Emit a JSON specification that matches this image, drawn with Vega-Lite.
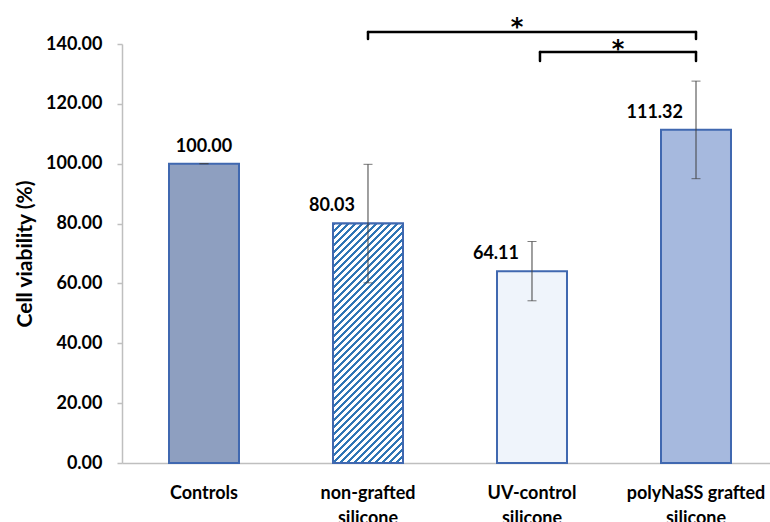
{
  "$schema": "https://vega.github.io/schema/vega-lite/v6.json",
  "width": 648,
  "height": 419,
  "autosize": {"type": "none"},
  "padding": {"left": 122, "top": 44, "right": 0, "bottom": 59},
  "background": "white",
  "config": {"view": {"stroke": null}, "font": "Lato"},
  "datasets": {
    "bars": [
      {"group": "Controls", "mean": 100.00, "low": 100.00, "high": 100.00},
      {"group": "non-grafted silicone", "mean": 80.03, "low": 60.2, "high": 99.8},
      {"group": "UV-control silicone", "mean": 64.11, "low": 54.2, "high": 74.0},
      {"group": "polyNaSS grafted silicone", "mean": 111.32, "low": 95.0, "high": 127.6}
    ],
    "brackets": [
      {"id": 1, "from": "non-grafted silicone", "to": "polyNaSS grafted silicone", "y": 144.0, "tip": 141.7, "label": "*"},
      {"id": 2, "from": "UV-control silicone", "to": "polyNaSS grafted silicone", "y": 137.3, "tip": 134.3, "label": "*"}
    ]
  },
  "layer": [
    {
      "data": {"name": "bars"},
      "mark": {"type": "bar", "stroke": "#4068B0", "strokeWidth": 2},
      "encoding": {
        "x": {
          "field": "group", "type": "nominal", "sort": null, "title": null,
          "scale": {"domain": ["Controls", "non-grafted silicone", "UV-control silicone", "polyNaSS grafted silicone"], "paddingInner": 0.5732, "paddingOuter": 0.2622, "align": 0.5465},
          "axis": {"title": null, "labelFont": "Lato", "labelFontSize": 18, "labelFontWeight": "bold", "labelColor": "#000000", "labelPadding": 21, "labelLineHeight": 25, "labelBaseline": "top", "labelAngle": 0, "labelOverlap": false, "labelLimit": 300, "ticks": false, "domainColor": "#BFBFBF", "domainWidth": 1.5,
            "labelExpr": "indexof(datum.label, ' silicone') > 0 ? [replace(datum.label, ' silicone', ''), 'silicone'] : datum.label"}
        },
        "y": {
          "field": "mean", "type": "quantitative",
          "scale": {"domain": [0, 140], "nice": false, "zero": true},
          "axis": {"values": [0, 20, 40, 60, 80, 100, 120, 140], "format": ".2f", "grid": false, "domainColor": "#BFBFBF", "domainWidth": 1.5, "tickColor": "#BFBFBF", "tickSize": 5, "tickWidth": 1.5, "labelFont": "Lato", "labelFontSize": 18, "labelFontWeight": "bold", "labelColor": "#000000", "labelPadding": 15,
            "title": "Cell viability (%)", "titleFont": "Lato", "titleFontSize": 21, "titleFontWeight": "bold", "titleColor": "#000000", "titleX": -97, "titleY": 209.5, "titleAngle": -90, "titleAlign": "center", "titleBaseline": "middle"}
        },
        "color": {
          "field": "group", "type": "nominal",
          "scale": {"domain": ["Controls", "non-grafted silicone", "UV-control silicone", "polyNaSS grafted silicone"], "range": ["#8E9FC0", "#ffffff", "#EFF4FB", "#A6B9DE"]},
          "legend": null
        }
      }
    },
    {
      "data": {"name": "bars"},
      "transform": [{"filter": "datum.group === 'non-grafted silicone'"}],
      "mark": {
        "type": "bar", "stroke": "#4068B0", "strokeWidth": 2,
        "fill": {
          "gradient": "linear", "x1": 0, "y1": 0, "x2": 0.39345, "y2": 1.34627,
          "stops": [
            {"offset": 0, "color": "#2f75b5"}, {"offset": 0.01, "color": "#2f75b5"}, {"offset": 0.01, "color": "#fff"}, {"offset": 0.02, "color": "#fff"},
            {"offset": 0.02, "color": "#2f75b5"}, {"offset": 0.03, "color": "#2f75b5"}, {"offset": 0.03, "color": "#fff"}, {"offset": 0.04, "color": "#fff"},
            {"offset": 0.04, "color": "#2f75b5"}, {"offset": 0.05, "color": "#2f75b5"}, {"offset": 0.05, "color": "#fff"}, {"offset": 0.06, "color": "#fff"},
            {"offset": 0.06, "color": "#2f75b5"}, {"offset": 0.07, "color": "#2f75b5"}, {"offset": 0.07, "color": "#fff"}, {"offset": 0.08, "color": "#fff"},
            {"offset": 0.08, "color": "#2f75b5"}, {"offset": 0.09, "color": "#2f75b5"}, {"offset": 0.09, "color": "#fff"}, {"offset": 0.10, "color": "#fff"},
            {"offset": 0.10, "color": "#2f75b5"}, {"offset": 0.11, "color": "#2f75b5"}, {"offset": 0.11, "color": "#fff"}, {"offset": 0.12, "color": "#fff"},
            {"offset": 0.12, "color": "#2f75b5"}, {"offset": 0.13, "color": "#2f75b5"}, {"offset": 0.13, "color": "#fff"}, {"offset": 0.14, "color": "#fff"},
            {"offset": 0.14, "color": "#2f75b5"}, {"offset": 0.15, "color": "#2f75b5"}, {"offset": 0.15, "color": "#fff"}, {"offset": 0.16, "color": "#fff"},
            {"offset": 0.16, "color": "#2f75b5"}, {"offset": 0.17, "color": "#2f75b5"}, {"offset": 0.17, "color": "#fff"}, {"offset": 0.18, "color": "#fff"},
            {"offset": 0.18, "color": "#2f75b5"}, {"offset": 0.19, "color": "#2f75b5"}, {"offset": 0.19, "color": "#fff"}, {"offset": 0.20, "color": "#fff"},
            {"offset": 0.20, "color": "#2f75b5"}, {"offset": 0.21, "color": "#2f75b5"}, {"offset": 0.21, "color": "#fff"}, {"offset": 0.22, "color": "#fff"},
            {"offset": 0.22, "color": "#2f75b5"}, {"offset": 0.23, "color": "#2f75b5"}, {"offset": 0.23, "color": "#fff"}, {"offset": 0.24, "color": "#fff"},
            {"offset": 0.24, "color": "#2f75b5"}, {"offset": 0.25, "color": "#2f75b5"}, {"offset": 0.25, "color": "#fff"}, {"offset": 0.26, "color": "#fff"},
            {"offset": 0.26, "color": "#2f75b5"}, {"offset": 0.27, "color": "#2f75b5"}, {"offset": 0.27, "color": "#fff"}, {"offset": 0.28, "color": "#fff"},
            {"offset": 0.28, "color": "#2f75b5"}, {"offset": 0.29, "color": "#2f75b5"}, {"offset": 0.29, "color": "#fff"}, {"offset": 0.30, "color": "#fff"},
            {"offset": 0.30, "color": "#2f75b5"}, {"offset": 0.31, "color": "#2f75b5"}, {"offset": 0.31, "color": "#fff"}, {"offset": 0.32, "color": "#fff"},
            {"offset": 0.32, "color": "#2f75b5"}, {"offset": 0.33, "color": "#2f75b5"}, {"offset": 0.33, "color": "#fff"}, {"offset": 0.34, "color": "#fff"},
            {"offset": 0.34, "color": "#2f75b5"}, {"offset": 0.35, "color": "#2f75b5"}, {"offset": 0.35, "color": "#fff"}, {"offset": 0.36, "color": "#fff"},
            {"offset": 0.36, "color": "#2f75b5"}, {"offset": 0.37, "color": "#2f75b5"}, {"offset": 0.37, "color": "#fff"}, {"offset": 0.38, "color": "#fff"},
            {"offset": 0.38, "color": "#2f75b5"}, {"offset": 0.39, "color": "#2f75b5"}, {"offset": 0.39, "color": "#fff"}, {"offset": 0.40, "color": "#fff"},
            {"offset": 0.40, "color": "#2f75b5"}, {"offset": 0.41, "color": "#2f75b5"}, {"offset": 0.41, "color": "#fff"}, {"offset": 0.42, "color": "#fff"},
            {"offset": 0.42, "color": "#2f75b5"}, {"offset": 0.43, "color": "#2f75b5"}, {"offset": 0.43, "color": "#fff"}, {"offset": 0.44, "color": "#fff"},
            {"offset": 0.44, "color": "#2f75b5"}, {"offset": 0.45, "color": "#2f75b5"}, {"offset": 0.45, "color": "#fff"}, {"offset": 0.46, "color": "#fff"},
            {"offset": 0.46, "color": "#2f75b5"}, {"offset": 0.47, "color": "#2f75b5"}, {"offset": 0.47, "color": "#fff"}, {"offset": 0.48, "color": "#fff"},
            {"offset": 0.48, "color": "#2f75b5"}, {"offset": 0.49, "color": "#2f75b5"}, {"offset": 0.49, "color": "#fff"}, {"offset": 0.50, "color": "#fff"},
            {"offset": 0.50, "color": "#2f75b5"}, {"offset": 0.51, "color": "#2f75b5"}, {"offset": 0.51, "color": "#fff"}, {"offset": 0.52, "color": "#fff"},
            {"offset": 0.52, "color": "#2f75b5"}, {"offset": 0.53, "color": "#2f75b5"}, {"offset": 0.53, "color": "#fff"}, {"offset": 0.54, "color": "#fff"},
            {"offset": 0.54, "color": "#2f75b5"}, {"offset": 0.55, "color": "#2f75b5"}, {"offset": 0.55, "color": "#fff"}, {"offset": 0.56, "color": "#fff"},
            {"offset": 0.56, "color": "#2f75b5"}, {"offset": 0.57, "color": "#2f75b5"}, {"offset": 0.57, "color": "#fff"}, {"offset": 0.58, "color": "#fff"},
            {"offset": 0.58, "color": "#2f75b5"}, {"offset": 0.59, "color": "#2f75b5"}, {"offset": 0.59, "color": "#fff"}, {"offset": 0.60, "color": "#fff"},
            {"offset": 0.60, "color": "#2f75b5"}, {"offset": 0.61, "color": "#2f75b5"}, {"offset": 0.61, "color": "#fff"}, {"offset": 0.62, "color": "#fff"},
            {"offset": 0.62, "color": "#2f75b5"}, {"offset": 0.63, "color": "#2f75b5"}, {"offset": 0.63, "color": "#fff"}, {"offset": 0.64, "color": "#fff"},
            {"offset": 0.64, "color": "#2f75b5"}, {"offset": 0.65, "color": "#2f75b5"}, {"offset": 0.65, "color": "#fff"}, {"offset": 0.66, "color": "#fff"},
            {"offset": 0.66, "color": "#2f75b5"}, {"offset": 0.67, "color": "#2f75b5"}, {"offset": 0.67, "color": "#fff"}, {"offset": 0.68, "color": "#fff"},
            {"offset": 0.68, "color": "#2f75b5"}, {"offset": 0.69, "color": "#2f75b5"}, {"offset": 0.69, "color": "#fff"}, {"offset": 0.70, "color": "#fff"},
            {"offset": 0.70, "color": "#2f75b5"}, {"offset": 0.71, "color": "#2f75b5"}, {"offset": 0.71, "color": "#fff"}, {"offset": 0.72, "color": "#fff"},
            {"offset": 0.72, "color": "#2f75b5"}, {"offset": 0.73, "color": "#2f75b5"}, {"offset": 0.73, "color": "#fff"}, {"offset": 0.74, "color": "#fff"},
            {"offset": 0.74, "color": "#2f75b5"}, {"offset": 0.75, "color": "#2f75b5"}, {"offset": 0.75, "color": "#fff"}, {"offset": 0.76, "color": "#fff"},
            {"offset": 0.76, "color": "#2f75b5"}, {"offset": 0.77, "color": "#2f75b5"}, {"offset": 0.77, "color": "#fff"}, {"offset": 0.78, "color": "#fff"},
            {"offset": 0.78, "color": "#2f75b5"}, {"offset": 0.79, "color": "#2f75b5"}, {"offset": 0.79, "color": "#fff"}, {"offset": 0.80, "color": "#fff"},
            {"offset": 0.80, "color": "#2f75b5"}, {"offset": 0.81, "color": "#2f75b5"}, {"offset": 0.81, "color": "#fff"}, {"offset": 0.82, "color": "#fff"},
            {"offset": 0.82, "color": "#2f75b5"}, {"offset": 0.83, "color": "#2f75b5"}, {"offset": 0.83, "color": "#fff"}, {"offset": 0.84, "color": "#fff"},
            {"offset": 0.84, "color": "#2f75b5"}, {"offset": 0.85, "color": "#2f75b5"}, {"offset": 0.85, "color": "#fff"}, {"offset": 0.86, "color": "#fff"},
            {"offset": 0.86, "color": "#2f75b5"}, {"offset": 0.87, "color": "#2f75b5"}, {"offset": 0.87, "color": "#fff"}, {"offset": 0.88, "color": "#fff"},
            {"offset": 0.88, "color": "#2f75b5"}, {"offset": 0.89, "color": "#2f75b5"}, {"offset": 0.89, "color": "#fff"}, {"offset": 0.90, "color": "#fff"}
          ]
        }
      },
      "encoding": {
        "x": {"field": "group", "type": "nominal", "title": null},
        "y": {"field": "mean", "type": "quantitative"}
      }
    },
    {
      "data": {"name": "bars"},
      "mark": {"type": "rule", "color": "#404040", "strokeWidth": 1},
      "encoding": {
        "x": {"field": "group", "type": "nominal", "title": null},
        "y": {"field": "low", "type": "quantitative"},
        "y2": {"field": "high"}
      }
    },
    {
      "data": {"name": "bars"},
      "mark": {"type": "tick", "color": "#404040", "thickness": 1, "size": 9, "orient": "horizontal"},
      "encoding": {
        "x": {"field": "group", "type": "nominal", "title": null},
        "y": {"field": "high", "type": "quantitative"}
      }
    },
    {
      "data": {"name": "bars"},
      "mark": {"type": "tick", "color": "#404040", "thickness": 1, "size": 9, "orient": "horizontal"},
      "encoding": {
        "x": {"field": "group", "type": "nominal", "title": null},
        "y": {"field": "low", "type": "quantitative"}
      }
    },
    {
      "data": {"name": "bars"},
      "transform": [{"filter": "datum.group === 'Controls'"}],
      "mark": {"type": "text", "font": "Lato", "fontSize": 18, "fontWeight": "bold", "color": "#000000", "align": "center", "baseline": "alphabetic", "dy": -12},
      "encoding": {
        "x": {"field": "group", "type": "nominal", "title": null},
        "y": {"field": "mean", "type": "quantitative"},
        "text": {"field": "mean", "type": "quantitative", "format": ".2f"}
      }
    },
    {
      "data": {"name": "bars"},
      "transform": [{"filter": "datum.group !== 'Controls'"}],
      "mark": {"type": "text", "font": "Lato", "fontSize": 18, "fontWeight": "bold", "color": "#000000", "align": "right", "baseline": "alphabetic", "dx": -13, "dy": -12},
      "encoding": {
        "x": {"field": "group", "type": "nominal", "title": null},
        "y": {"field": "mean", "type": "quantitative"},
        "text": {"field": "mean", "type": "quantitative", "format": ".2f"}
      }
    },
    {
      "data": {"name": "brackets"},
      "transform": [{"filter": "datum.id === 1"}],
      "mark": {"type": "rule", "color": "#000000", "strokeWidth": 2.5, "strokeCap": "round"},
      "encoding": {
        "x": {"field": "from", "type": "nominal", "title": null},
        "x2": {"field": "to"},
        "y": {"field": "y", "type": "quantitative"}
      }
    },
    {
      "data": {"name": "brackets"},
      "transform": [{"filter": "datum.id === 2"}],
      "mark": {"type": "rule", "color": "#000000", "strokeWidth": 2.5, "strokeCap": "round"},
      "encoding": {
        "x": {"field": "from", "type": "nominal", "title": null, "bandPosition": 0.614},
        "x2": {"field": "to"},
        "y": {"field": "y", "type": "quantitative"}
      }
    },
    {
      "data": {"name": "brackets"},
      "transform": [{"filter": "datum.id === 1"}],
      "mark": {"type": "rule", "color": "#000000", "strokeWidth": 2.5, "strokeCap": "round"},
      "encoding": {
        "x": {"field": "from", "type": "nominal", "title": null},
        "y": {"field": "y", "type": "quantitative"},
        "y2": {"field": "tip"}
      }
    },
    {
      "data": {"name": "brackets"},
      "transform": [{"filter": "datum.id === 2"}],
      "mark": {"type": "rule", "color": "#000000", "strokeWidth": 2.5, "strokeCap": "round"},
      "encoding": {
        "x": {"field": "from", "type": "nominal", "title": null, "bandPosition": 0.614},
        "y": {"field": "y", "type": "quantitative"},
        "y2": {"field": "tip"}
      }
    },
    {
      "data": {"name": "brackets"},
      "mark": {"type": "rule", "color": "#000000", "strokeWidth": 2.5, "strokeCap": "round"},
      "encoding": {
        "x": {"field": "to", "type": "nominal", "title": null},
        "y": {"field": "y", "type": "quantitative"},
        "y2": {"field": "tip"}
      }
    },
    {
      "data": {"name": "brackets"},
      "transform": [{"filter": "datum.id === 1"}],
      "mark": {"type": "text", "font": "DejaVu Sans", "fontSize": 24, "fontWeight": "bold", "color": "#000000", "align": "center", "baseline": "alphabetic", "dx": -179, "dy": 3},
      "encoding": {
        "x": {"field": "to", "type": "nominal", "title": null},
        "y": {"field": "y", "type": "quantitative"},
        "text": {"field": "label"}
      }
    },
    {
      "data": {"name": "brackets"},
      "transform": [{"filter": "datum.id === 2"}],
      "mark": {"type": "text", "font": "DejaVu Sans", "fontSize": 24, "fontWeight": "bold", "color": "#000000", "align": "center", "baseline": "alphabetic", "dx": -78, "dy": 5},
      "encoding": {
        "x": {"field": "to", "type": "nominal", "title": null},
        "y": {"field": "y", "type": "quantitative"},
        "text": {"field": "label"}
      }
    }
  ]
}
